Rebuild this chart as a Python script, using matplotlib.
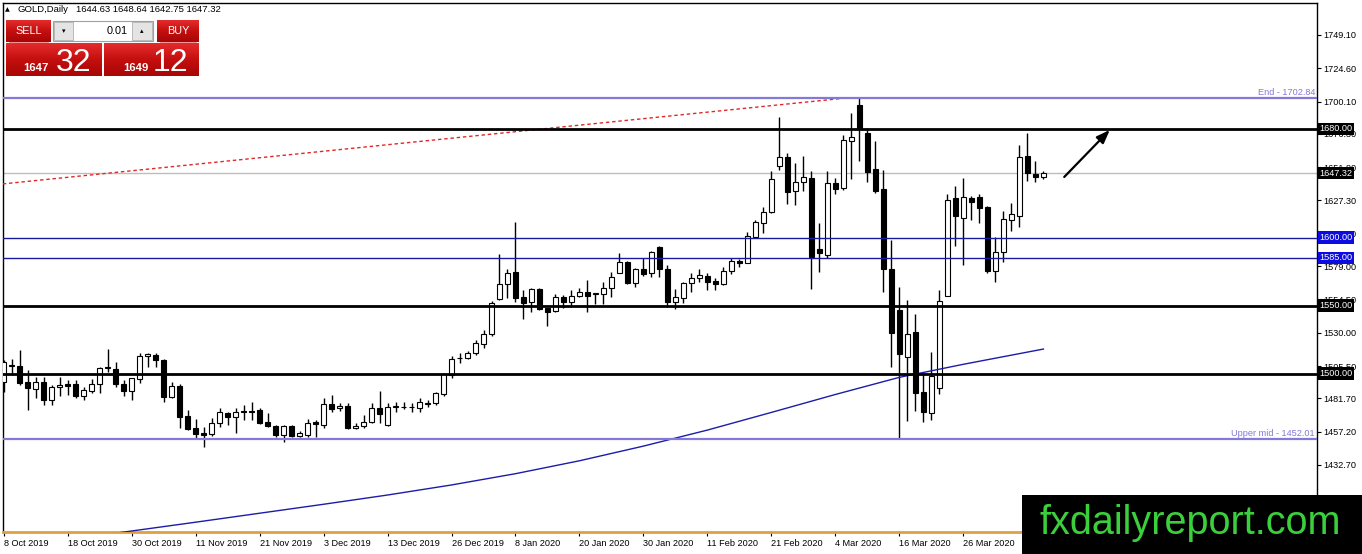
import numpy as np
import matplotlib
matplotlib.use("Agg")
import matplotlib.pyplot as plt
from matplotlib.colors import LinearSegmentedColormap
from matplotlib.patches import Rectangle

plt.rcParams['font.family'] = ['Liberation Sans', 'DejaVu Sans']

# daily GOLD bars, one per trading day starting 8 Oct 2019
opens = [1494.0, 1505.5, 1505.8, 1494.0, 1488.4, 1494.0, 1480.5, 1489.8, 1492.3, 1492.3,
         1483.7, 1487.4, 1492.0, 1503.8, 1503.0, 1492.3, 1487.4, 1495.7, 1512.9, 1513.6,
         1510.0, 1483.0, 1490.8, 1468.7, 1459.7, 1456.0, 1455.5, 1463.3, 1471.2, 1467.8,
         1472.4, 1472.6, 1473.2, 1464.5, 1461.4, 1454.8, 1461.4, 1454.2, 1454.8, 1464.3,
         1462.1, 1477.6, 1474.4, 1476.1, 1459.7, 1461.6, 1464.1, 1474.4, 1462.1, 1475.4,
         1475.6, 1475.0, 1474.9, 1477.8, 1478.0, 1484.9, 1498.9, 1511.2, 1511.2, 1515.1,
         1521.5, 1528.8, 1554.6, 1565.6, 1574.5, 1556.6, 1552.4, 1562.2, 1548.0, 1546.0,
         1556.1, 1552.4, 1557.3, 1560.2, 1558.5, 1558.3, 1562.7, 1574.2, 1581.8, 1566.8,
         1576.7, 1573.7, 1592.9, 1576.7, 1552.4, 1555.8, 1566.3, 1570.5, 1571.7, 1568.1,
         1565.6, 1575.7, 1582.8, 1581.6, 1600.7, 1611.0, 1619.1, 1652.9, 1659.1, 1634.6,
         1640.7, 1643.6, 1591.6, 1587.2, 1639.9, 1636.7, 1671.3, 1697.6, 1677.2, 1650.5,
         1635.8, 1576.9, 1546.7, 1512.4, 1530.3, 1486.1, 1470.7, 1489.1, 1557.3, 1628.9,
         1614.2, 1628.9, 1629.6, 1622.3, 1575.7, 1589.7, 1612.9, 1616.1, 1660.1, 1646.8,
         1644.63]
highs = [1510.0, 1511.0, 1517.3, 1502.6, 1497.7, 1497.7, 1491.5, 1497.2, 1495.2, 1495.2,
         1490.3, 1495.7, 1505.0, 1517.8, 1508.7, 1495.2, 1497.0, 1514.9, 1515.4, 1514.9,
         1510.4, 1494.0, 1492.3, 1473.2, 1466.3, 1460.4, 1467.0, 1474.4, 1472.0, 1474.4,
         1476.8, 1479.3, 1474.4, 1470.7, 1462.1, 1462.1, 1462.1, 1457.7, 1466.3, 1465.8,
         1481.7, 1484.2, 1478.0, 1478.1, 1463.4, 1469.5, 1478.1, 1487.1, 1478.1, 1479.3,
         1478.8, 1478.0, 1482.2, 1480.5, 1486.6, 1500.1, 1513.1, 1514.8, 1516.6, 1524.7,
         1532.0, 1553.4, 1587.7, 1576.9, 1611.7, 1561.5, 1563.2, 1562.7, 1548.5, 1558.3,
         1557.8, 1561.5, 1562.7, 1568.8, 1559.5, 1567.6, 1574.9, 1588.4, 1582.8, 1577.4,
         1584.7, 1590.2, 1593.8, 1579.8, 1561.9, 1567.6, 1574.2, 1576.7, 1574.2, 1570.0,
         1578.1, 1584.7, 1584.0, 1604.4, 1613.0, 1622.8, 1649.3, 1689.0, 1662.3, 1654.7,
         1660.1, 1649.0, 1610.5, 1649.0, 1643.6, 1675.5, 1691.9, 1702.84, 1680.4, 1671.3,
         1649.8, 1598.2, 1563.4, 1554.1, 1543.8, 1500.1, 1515.6, 1561.5, 1632.1, 1638.0,
         1643.6, 1630.6, 1632.1, 1623.3, 1600.7, 1619.8, 1625.2, 1668.2, 1677.2, 1656.4,
         1648.64]
lows = [1486.6, 1499.0, 1491.5, 1473.0, 1481.7, 1476.8, 1476.8, 1483.5, 1484.2, 1481.7,
        1480.5, 1485.4, 1485.4, 1501.4, 1489.8, 1483.5, 1480.5, 1493.3, 1505.0, 1505.0,
        1479.3, 1481.7, 1459.7, 1458.4, 1452.3, 1445.7, 1454.0, 1460.9, 1462.1, 1456.0,
        1465.8, 1465.8, 1462.9, 1460.9, 1453.5, 1449.8, 1453.5, 1453.5, 1453.0, 1453.0,
        1459.7, 1471.9, 1472.5, 1458.9, 1458.9, 1459.7, 1463.4, 1463.4, 1461.6, 1471.9,
        1473.9, 1471.4, 1472.0, 1475.6, 1476.8, 1483.7, 1496.4, 1507.5, 1510.7, 1513.6,
        1518.5, 1527.9, 1554.1, 1555.3, 1552.4, 1539.9, 1545.5, 1546.7, 1535.2, 1545.5,
        1548.0, 1549.2, 1556.6, 1545.5, 1551.2, 1551.2, 1556.1, 1574.2, 1565.6, 1563.4,
        1572.0, 1570.8, 1570.8, 1548.7, 1547.2, 1552.1, 1560.2, 1567.6, 1561.5, 1561.5,
        1565.1, 1573.0, 1578.6, 1581.1, 1599.9, 1603.6, 1617.9, 1649.8, 1625.0, 1624.0,
        1634.6, 1562.2, 1574.9, 1584.8, 1632.1, 1635.0, 1642.9, 1656.6, 1641.2, 1632.6,
        1560.2, 1504.5, 1452.01, 1465.3, 1472.6, 1464.1, 1465.8, 1484.9, 1557.3, 1594.0,
        1579.8, 1613.0, 1611.0, 1573.7, 1567.6, 1582.3, 1605.1, 1608.1, 1641.9, 1641.2,
        1642.75]
closes = [1508.7, 1506.0, 1492.8, 1489.0, 1493.5, 1480.5, 1489.8, 1491.5, 1490.8, 1483.7,
          1487.9, 1492.3, 1503.8, 1505.0, 1492.0, 1487.4, 1496.5, 1512.9, 1514.4, 1510.0,
          1483.0, 1490.8, 1468.3, 1458.9, 1455.5, 1454.8, 1463.3, 1471.9, 1467.8, 1471.9,
          1471.4, 1471.4, 1463.8, 1461.6, 1454.8, 1461.4, 1454.0, 1456.0, 1463.8, 1462.6,
          1477.6, 1473.7, 1476.1, 1459.7, 1461.4, 1464.1, 1474.9, 1470.0, 1475.6, 1475.8,
          1475.3, 1475.4, 1478.8, 1478.5, 1485.4, 1499.4, 1510.7, 1511.7, 1515.3, 1522.7,
          1529.1, 1552.1, 1565.6, 1573.7, 1555.8, 1552.1, 1562.2, 1547.5, 1545.5, 1556.1,
          1552.4, 1557.0, 1560.2, 1557.3, 1559.0, 1562.7, 1570.8, 1581.8, 1566.8, 1576.9,
          1573.2, 1589.2, 1576.7, 1552.4, 1556.1, 1566.3, 1570.0, 1572.5, 1567.6, 1565.6,
          1575.7, 1583.0, 1581.1, 1601.2, 1611.2, 1619.1, 1643.1, 1659.1, 1633.8, 1640.7,
          1644.4, 1586.0, 1588.9, 1639.9, 1635.8, 1671.8, 1673.8, 1679.9, 1648.5, 1634.6,
          1576.6, 1529.6, 1514.1, 1528.8, 1485.9, 1471.9, 1498.4, 1553.6, 1627.7, 1616.0,
          1629.6, 1626.5, 1621.6, 1575.7, 1589.7, 1613.4, 1617.1, 1659.1, 1647.3, 1644.4,
          1647.32]

# moving average line, read at a few bars
ma_bar = [14.6, 24, 32, 40, 48, 56, 64, 72, 80, 88, 96, 104, 112, 120, 130]
ma_val = [1383.0, 1390.6, 1397.2, 1403.8, 1410.6, 1418.0, 1426.3, 1435.8, 1446.6,
          1458.4, 1471.4, 1484.6, 1497.2, 1506.8, 1518.0]

# trend line (two anchor points)
trend_bar = [-0.1, 105.5]
trend_val = [1639.5, 1702.8]

date_labels = ['8 Oct 2019', '18 Oct 2019', '30 Oct 2019', '11 Nov 2019', '21 Nov 2019',
               '3 Dec 2019', '13 Dec 2019', '26 Dec 2019', '8 Jan 2020', '20 Jan 2020',
               '30 Jan 2020', '11 Feb 2020', '21 Feb 2020', '4 Mar 2020', '16 Mar 2020',
               '26 Mar 2020']
price_ticks = [1749.10, 1724.60, 1700.10, 1676.30, 1651.80, 1627.30, 1602.80, 1579.00,
               1554.50, 1530.00, 1505.50, 1481.70, 1457.20, 1432.70, 1408.20]

support_black = [1680.0, 1550.0, 1500.0]
support_blue = [1600.0, 1585.0]
fib_levels = [1702.84, 1452.01]
fib_names = ['End', 'Upper mid']
bid = 1647.32

W, H = 1362, 554
fig = plt.figure(figsize=(W / 100, H / 100), dpi=100)
ax = fig.add_axes([3 / W, 1 - 532 / H, (1317 - 3) / W, (532 - 3) / H])

x = np.arange(len(opens))
o = np.array(opens)
c = np.array(closes)
up = c >= o
ax.vlines(x, lows, highs, color='black', lw=1, zorder=2)
ax.bar(x, np.abs(c - o), bottom=np.minimum(o, c), width=0.6,
       color=np.where(up, 'white', 'black'), edgecolor='black', lw=0.8, zorder=3)

ax.plot(ma_bar, ma_val, color='#1c1ca8', lw=1, zorder=4)
ax.plot(trend_bar, trend_val, color='#e02828', lw=1, ls=(0, (2.5, 2)), zorder=4)

for lv in support_black:
    ax.axhline(lv, color='black', lw=2, zorder=5)
for lv in support_blue:
    ax.axhline(lv, color='#1a1a9c', lw=1, zorder=5)
for lv, nm in zip(fib_levels, fib_names):
    ax.axhline(lv, color='#8478d8', lw=1.6, zorder=5)
    ax.text(0.9985, lv + 0.8, f'{nm} - {lv:.2f}', transform=ax.get_yaxis_transform(),
            ha='right', va='bottom', fontsize=6.6, color='#8478d8', zorder=6)
ax.axhline(bid, color='#bdbdbd', lw=1, zorder=1)

ax.annotate('', xy=(138.3, 1679.2), xytext=(132.6, 1644.6),
            arrowprops=dict(arrowstyle='-|>,head_length=0.8,head_width=0.3',
                            color='black', lw=1.6, shrinkA=0, shrinkB=0), zorder=6)

ax.set_xlim(-0.07, 164.2)
ax.set_ylim(1383.4, 1772.6)

ax.set_xticks(range(0, 8 * len(date_labels), 8))
ax.set_xticklabels(date_labels)
for lab in ax.get_xticklabels():
    lab.set_ha('left')
ax.yaxis.tick_right()
ax.set_yticks(price_ticks)
ax.set_yticklabels([f'{v:.2f}' for v in price_ticks])
ax.tick_params(axis='both', direction='out', length=3, width=0.8, labelsize=6.6,
               colors='black')
ax.tick_params(axis='x', pad=2)
ax.tick_params(axis='y', pad=1.5)
for s in ['left', 'top', 'right']:
    ax.spines[s].set_linewidth(1)
ax.spines['bottom'].set_color('#e0a040')
ax.spines['bottom'].set_linewidth(2)

# price tags on the right axis (they sit over the grid labels, as in the terminal)
tags = [(1680.0, 'black'), (bid, 'black'), (1600.0, '#0c0ce0'), (1585.0, '#0c0ce0'),
        (1550.0, 'black'), (1500.0, 'black')]
for lv, col in tags:
    ax.annotate(f'{lv:.2f}', xy=(1, lv), xycoords=ax.get_yaxis_transform(),
                xytext=(1.8, 0), textcoords='offset points', ha='left', va='center',
                fontsize=6.6, color='white', annotation_clip=False,
                bbox=dict(boxstyle='square,pad=0.18', fc=col, ec='none'), zorder=7)

# overlay: trade panel + watermark in pixel coordinates
ov = fig.add_axes([0, 0, 1, 1], zorder=10)
ov.patch.set_visible(False)
ov.set_xlim(0, W)
ov.set_ylim(H, 0)
ov.axis('off')

red = LinearSegmentedColormap.from_list('red', ['#e42b2b', '#c40f0f', '#a80606'])
grad = np.linspace(0, 1, 30).reshape(-1, 1)


def red_box(x0, y0, x1, y1):
    ov.imshow(grad, extent=(x0, x1, y1, y0), cmap=red, aspect='auto', zorder=11,
              interpolation='bilinear')


ov.text(5, 9.5, '\u25b2', fontsize=4.5, va='center', ha='left', family='DejaVu Sans')
ov.text(17, 9.5, 'GOLD,Daily', fontsize=6.8, va='center', ha='left')
ov.text(76, 9.5, '1644.63 1648.64 1642.75 1647.32', fontsize=6.8, va='center', ha='left')

red_box(6, 20, 51, 42)
red_box(157, 20, 199, 42)
red_box(6, 43, 102, 76)
red_box(104, 43, 199, 76)
ov.plot([9, 48], [41.5, 41.5], color='#f08080', lw=0.6, zorder=12)
ov.plot([160, 196], [41.5, 41.5], color='#f08080', lw=0.6, zorder=12)
ov.text(28.5, 31, 'SELL', fontsize=7.8, color='white', ha='center', va='center', zorder=12)
ov.text(178, 31, 'BUY', fontsize=7.8, color='white', ha='center', va='center', zorder=12)
ov.add_patch(Rectangle((53, 21), 100, 20, fc='white', ec='#a0a0a0', lw=0.8, zorder=11))
ov.add_patch(Rectangle((54, 22), 19, 18, fc='#e4e4e4', ec='#b0b0b0', lw=0.6, zorder=12))
ov.add_patch(Rectangle((132, 22), 20, 18, fc='#e4e4e4', ec='#b0b0b0', lw=0.6, zorder=12))
ov.text(63.5, 31, '\u25be', fontsize=5, ha='center', va='center', family='DejaVu Sans',
        zorder=13)
ov.text(142, 31, '\u25b4', fontsize=5, ha='center', va='center', family='DejaVu Sans',
        zorder=13)
ov.text(128, 31, '0.01', fontsize=7.8, ha='right', va='center', zorder=13)
ov.text(49, 71, '1647', fontsize=8.2, weight='bold', color='white', ha='right',
        va='baseline', zorder=12)
ov.text(56, 71, '32', fontsize=23, color='white', ha='left', va='baseline', zorder=12)
ov.text(148, 71, '1649', fontsize=8.2, weight='bold', color='white', ha='right',
        va='baseline', zorder=12)
ov.text(153, 71, '12', fontsize=23, color='white', ha='left', va='baseline', zorder=12)

ov.add_patch(Rectangle((1022, 495), W - 1022, H - 495, fc='black', ec='none', zorder=11))
ov.text(1190, 523, 'fxdailyreport.com', fontsize=28.5, color='#3ccf3c', ha='center',
        va='center', zorder=12)

fig.savefig('out.png', dpi=100)
